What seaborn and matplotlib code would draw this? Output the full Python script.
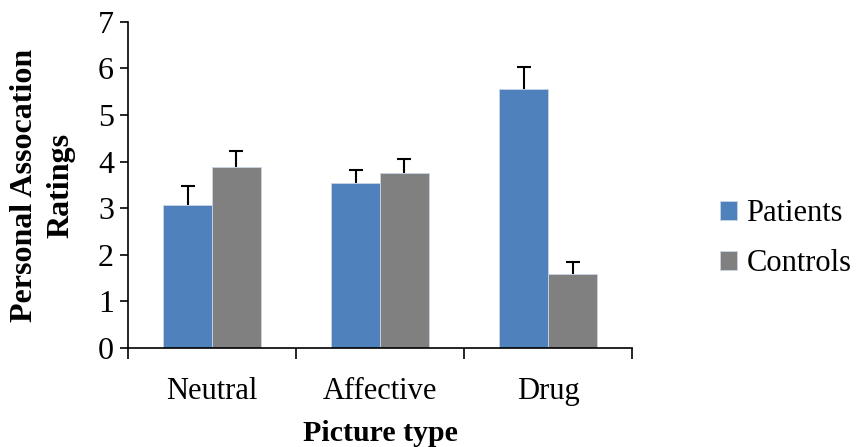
# Personal association ratings by picture type (patients vs controls)

import numpy as np
import pandas as pd
import matplotlib
matplotlib.use("Agg")
import matplotlib.pyplot as plt
import seaborn as sns

# ─── DATA ────────────────────────────────────────────────────────────────────
categories   = ["Neutral", "Affective", "Drug"]
groups       = ["Patients", "Controls"]
patients     = [3.08, 3.55, 5.57]
controls     = [3.88, 3.76, 1.59]
patients_err = [0.39, 0.27, 0.46]
controls_err = [0.35, 0.30, 0.26]

colors = {"Patients": "#4F81BD", "Controls": "#808080"}

df = pd.DataFrame({
    "Picture type": categories * 2,
    "Group": [groups[0]] * 3 + [groups[1]] * 3,
    "Rating": patients + controls,
})
errs = {"Patients": patients_err, "Controls": controls_err}

# ─── STYLE ───────────────────────────────────────────────────────────────────
sns.set_style("ticks")
plt.rcParams["font.family"] = ["Liberation Serif", "DejaVu Serif"]
plt.rcParams["text.color"] = "black"
plt.rcParams["axes.labelcolor"] = "black"
plt.rcParams["xtick.color"] = "black"
plt.rcParams["ytick.color"] = "black"

fig = plt.figure(figsize=(8.58, 4.47), dpi=100)
ax = fig.add_axes([0.149, 0.2215, 0.588, 0.7295])

sns.barplot(data=df, x="Picture type", y="Rating", hue="Group",
            hue_order=groups, order=categories, palette=colors,
            saturation=1, errorbar=None, width=0.58,
            edgecolor="#C8D4E6", linewidth=0.6, ax=ax)

# upward-only error bars on top of each bar
for container, grp in zip(ax.containers, groups):
    xs = [b.get_x() + b.get_width() / 2 for b in container]
    hs = [b.get_height() for b in container]
    _, caps, _ = ax.errorbar(xs, hs, yerr=[np.zeros(len(hs)), errs[grp]],
                             fmt="none", ecolor="black", elinewidth=1.5,
                             capsize=5, capthick=1.5)
    caps[0].set_visible(False)   # drop the lower cap

# ─── AXES ────────────────────────────────────────────────────────────────────
ax.set_xlim(-0.5, 2.5)
ax.set_ylim(0, 7)
ax.set_yticks(range(0, 8))
ax.tick_params(axis="y", labelsize=23, length=6, width=1.2, direction="out", pad=4)
ax.tick_params(axis="x", which="major", labelsize=22, length=0, pad=21)
ax.set_xticks([-0.5, 0.5, 1.5, 2.5], minor=True)
ax.tick_params(axis="x", which="minor", length=8, width=1.2, direction="out")
for s in ["top", "right"]:
    ax.spines[s].set_visible(False)
for s in ["left", "bottom"]:
    ax.spines[s].set_linewidth(1.2)
    ax.spines[s].set_color("black")

ax.set_xlabel("Picture type", fontsize=21.5, fontweight="bold", labelpad=10)
ax.set_ylabel("Personal Assocation\nRatings", fontsize=23, fontweight="bold",
              labelpad=16, linespacing=1.35)

# legend on the right
handles, labels = ax.get_legend_handles_labels()
ax.legend(handles, labels, loc="center left", bbox_to_anchor=(1.12, 0.335),
          frameon=False, fontsize=22, handlelength=0.55, handleheight=0.55,
          handletextpad=0.3, labelspacing=0.68)

fig.savefig("out.png", dpi=100)
